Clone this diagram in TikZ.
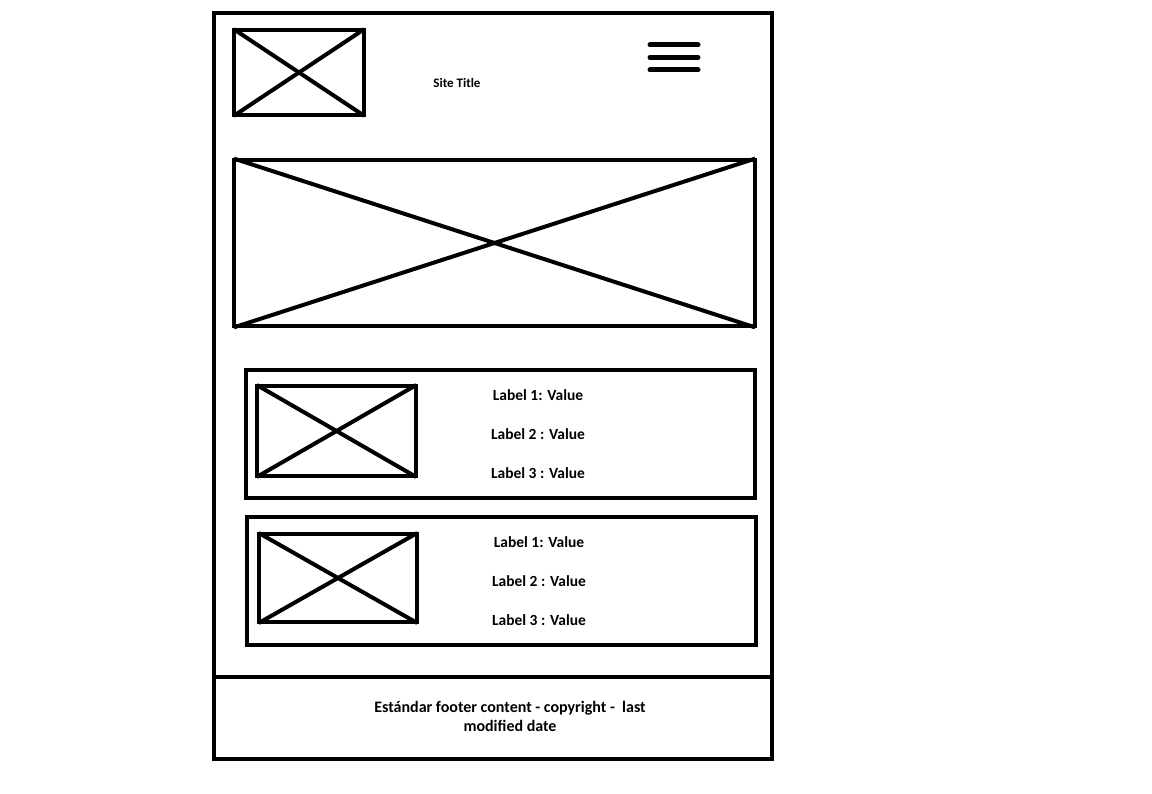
\documentclass[tikz,border=0pt]{standalone}
\usepackage{fontspec}
\setmainfont{Carlito}
\usetikzlibrary{positioning}
\tikzset{
  frame/.style={draw=black, line width=4pt},
  imgbox/.style={rectangle, draw=black, line width=4pt, inner sep=0pt},
  cardbox/.style={rectangle, draw=black, line width=4pt, inner sep=0pt},
  crossline/.style={draw=black, line width=4pt, shorten <=2pt, shorten >=2pt},
  burger/.style={draw=black, line width=5pt, line cap=round},
  cardlabel/.style={font=\bfseries\fontsize{15.5}{17}\selectfont, inner sep=0pt},
}
\begin{document}
\begin{tikzpicture}[x=1pt, y=-1pt]
    \useasboundingbox (0,0) rectangle (1152,794);
    % page frame and footer
    \node[cardbox, minimum width=558pt, minimum height=746pt, anchor=north west] (page) at (212,11) {};
    \coordinate (divy) at (0,677);
    \draw[frame] (page.west |- divy) -- (page.east |- divy);
    \node[font=\bfseries\fontsize{16}{19}\selectfont, align=center] (footer) at (510,716)
      {Estándar footer content - copyright -\ \ last\\modified date};
    % header
    \node[imgbox, minimum width=130pt, minimum height=85pt, anchor=north west] (logo) at (232,28) {};
    \draw[crossline] (logo.north west) -- (logo.south east);
    \draw[crossline] (logo.north east) -- (logo.south west);
    \node[font=\bfseries\fontsize{13}{15}\selectfont] (title) at (457,83) {Site Title};
    \coordinate (m1l) at (650,45);
    \coordinate (m1r) at (698,45);
    \draw[burger] (m1l) -- (m1r);
    \draw[burger] ([yshift=-12.5pt]m1l) -- ([yshift=-12.5pt]m1r);
    \draw[burger] ([yshift=-25pt]m1l) -- ([yshift=-25pt]m1r);
    % hero image
    \node[imgbox, minimum width=521pt, minimum height=166pt, anchor=north west] (hero) at (232,158) {};
    \draw[crossline] (hero.north west) -- (hero.south east);
    \draw[crossline] (hero.north east) -- (hero.south west);
    % card 1
    \node[cardbox, minimum width=509pt, minimum height=128pt, anchor=north west] (card1) at (244,368) {};
    \node[imgbox, minimum width=159pt, minimum height=90pt, anchor=north west] (img1) at (255,384) {};
    \draw[crossline] (img1.north west) -- (img1.south east);
    \draw[crossline] (img1.north east) -- (img1.south west);
    \node[cardlabel] (c1l1) at (538,395) {Label 1: Value};
    \node[cardlabel, below=39pt of c1l1.center, anchor=center] (c1l2) {Label 2 : Value};
    \node[cardlabel, below=39pt of c1l2.center, anchor=center] (c1l3) {Label 3 : Value};
    % card 2
    \node[cardbox, minimum width=509pt, minimum height=128pt, anchor=north west] (card2) at (245,515) {};
    \node[imgbox, minimum width=158pt, minimum height=88pt, anchor=north west] (img2) at (257,532) {};
    \draw[crossline] (img2.north west) -- (img2.south east);
    \draw[crossline] (img2.north east) -- (img2.south west);
    \node[cardlabel] (c2l1) at (539,542) {Label 1: Value};
    \node[cardlabel, below=39pt of c2l1.center, anchor=center] (c2l2) {Label 2 : Value};
    \node[cardlabel, below=39pt of c2l2.center, anchor=center] (c2l3) {Label 3 : Value};
\end{tikzpicture}
\end{document}
